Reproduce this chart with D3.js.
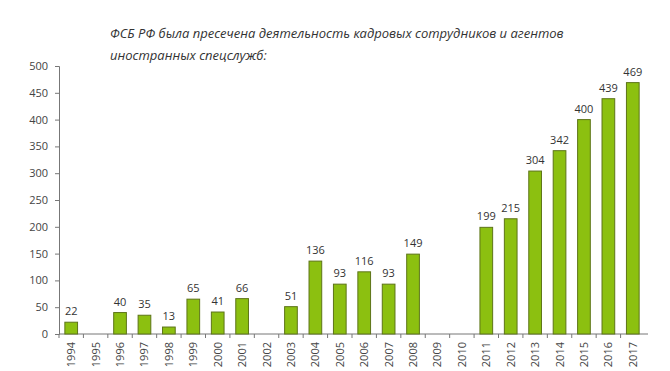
<!DOCTYPE html>
<html>
<head>
<meta charset="utf-8">
<script src="https://cdn.jsdelivr.net/npm/d3@7"></script>
<style>
  body { margin: 0; background: #fff; }
  text { font-family: "Open Sans", sans-serif; }
</style>
</head>
<body>
<div id="chart"></div>
<script>
// years and counts (null = no bar)
var years = ["1994","1995","1996","1997","1998","1999","2000","2001","2002","2003","2004","2005",
             "2006","2007","2008","2009","2010","2011","2012","2013","2014","2015","2016","2017"];
var counts = [22, null, 40, 35, 13, 65, 41, 66, null, 51, 136, 93,
              116, 93, 149, null, null, 199, 215, 304, 342, 400, 439, 469];
var yTicks = [0, 50, 100, 150, 200, 250, 300, 350, 400, 450, 500];
var titleLines = ["ФСБ РФ была пресечена деятельность кадровых сотрудников и агентов",
                  "иностранных спецслужб:"];

var svgWidth = 670, svgHeight = 371;
var margin = { top: 66, left: 59, right: 25, bottom: 37 };
var width = svgWidth - margin.left - margin.right;
var height = svgHeight - margin.top - margin.bottom;

var svg = d3.select("#chart").append("svg")
  .attr("width", svgWidth)
  .attr("height", svgHeight);

// title
svg.append("g").selectAll("text")
  .data(titleLines)
  .enter().append("text")
  .attr("x", 110)
  .attr("y", (d, i) => 38 + i * 22)
  .attr("font-size", 13)
  .attr("font-style", "italic")
  .attr("fill", "#333")
  .text(d => d);

var chartGroup = svg.append("g")
  .attr("transform", `translate(${margin.left}, ${margin.top})`);

var x = d3.scaleBand().domain(years).range([0, width]).paddingInner(0.48).paddingOuter(0.24);
var y = d3.scaleLinear().domain([0, 500]).range([height, 0]);

// y axis
var yAxis = chartGroup.append("g")
  .call(d3.axisLeft(y).tickValues(yTicks).tickSize(4).tickPadding(7));
yAxis.select(".domain").attr("stroke", "#777");
yAxis.selectAll(".tick line").attr("stroke", "#777");
yAxis.selectAll("text").attr("font-size", 11).attr("fill", "#444")
  .style("font-family", "Open Sans, sans-serif");

// x axis: ticks sit between categories
var step = x.step();
var xAxis = chartGroup.append("g").attr("transform", `translate(0, ${height})`);
xAxis.append("line")
  .attr("x1", 0).attr("x2", width + 3)
  .attr("stroke", "#777");
xAxis.selectAll(".sep")
  .data(years)
  .enter().append("line")
  .attr("class", "sep")
  .attr("x1", (d, i) => i * step).attr("x2", (d, i) => i * step)
  .attr("y1", 0).attr("y2", 4)
  .attr("stroke", "#777");
xAxis.selectAll(".lbl")
  .data(years)
  .enter().append("text")
  .attr("class", "lbl")
  .attr("transform", d => `translate(${x(d) + x.bandwidth() / 2 + 4}, 8) rotate(-90)`)
  .attr("text-anchor", "end")
  .attr("font-size", 11)
  .attr("fill", "#444")
  .text(d => d);

// bars
var data = years.map((yr, i) => ({ year: yr, value: counts[i] })).filter(d => d.value !== null);

chartGroup.selectAll(".bar")
  .data(data)
  .enter().append("rect")
  .attr("class", "bar")
  .attr("x", d => x(d.year))
  .attr("y", d => y(d.value))
  .attr("width", x.bandwidth())
  .attr("height", d => height - y(d.value))
  .attr("fill", "#8cc010")
  .attr("stroke", "#5d7418")
  .attr("stroke-width", 1);

chartGroup.selectAll(".val")
  .data(data)
  .enter().append("text")
  .attr("class", "val")
  .attr("x", d => x(d.year) + x.bandwidth() / 2)
  .attr("y", d => y(d.value) - 7)
  .attr("text-anchor", "middle")
  .attr("font-size", 11)
  .attr("fill", "#333")
  .text(d => d.value);
</script>
</body>
</html>
